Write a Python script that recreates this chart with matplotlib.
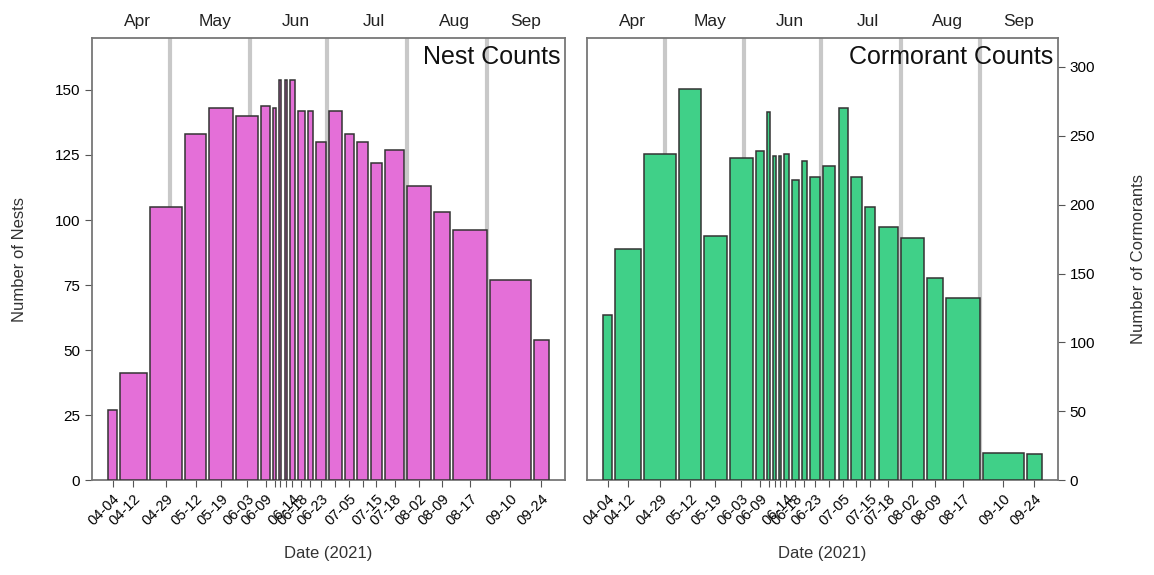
import numpy as np
import pandas as pd
import matplotlib
matplotlib.use("Agg")
import matplotlib.pyplot as plt

plt.rcParams.update({"font.family": ["Liberation Sans", "DejaVu Sans"], "font.size": 11})

# survey dates (2021) and counts
survey_dates = ["04-04", "04-12", "04-29", "05-12", "05-19", "06-03", "06-09", "06-11",
                "06-12", "06-13", "06-14", "06-18", "06-20", "06-23", "06-29", "07-05",
                "07-08", "07-15", "07-18", "08-02", "08-09", "08-17", "09-10", "09-24"]
nest_counts = [27, 41, 105, 133, 143, 140, 144, 143, 154, 154, 154, 142, 142, 130, 142,
               133, 130, 122, 127, 113, 103, 96, 77, 54]
corm_counts = [120, 168, 237, 284, 177, 234, 239, 267, 235, 235, 237, 218, 232, 220, 228,
               270, 220, 198, 184, 176, 147, 132, 20, 19]

# only these dates get a tick label (the rest would overlap)
shown_labels = ["04-04", "04-12", "04-29", "05-12", "05-19", "06-03", "06-09", "06-14",
                "06-18", "06-23", "07-05", "07-15", "07-18", "08-02", "08-09", "08-17",
                "09-10", "09-24"]
month_names = ["Apr", "May", "Jun", "Jul", "Aug", "Sep"]


def doy(md):
    return pd.Timestamp("2021-" + md).dayofyear


def bar_layout(dates):
    # barplot-style layout: each bar is as wide as the time it covers
    d = np.array([doy(x) for x in dates], dtype=float)
    mids = np.concatenate([[d[0]], (d[1:] + d[:-1]) / 2, [d[-1]]])
    w = np.diff(mids)
    space = 0.2 * w.mean()
    left = np.cumsum(np.concatenate([[0], w[:-1]])) + space * np.arange(1, len(w) + 1)
    return d, left, w


def panel(ax, dates, counts, color, title, ylim, yticks):
    d, left, w = bar_layout(dates)
    centers = left + w / 2
    ax.bar(left, counts, width=w, align="edge", color=color, edgecolor="#333333",
           linewidth=1.1, zorder=3)
    span = left[-1] + w[-1] - left[0]
    ax.set_xlim(left[0] - 0.037 * span, left[-1] + w[-1] + 0.037 * span)
    ax.set_ylim(*ylim)
    ax.set_yticks(yticks)

    # linear date -> position fits for month lines and month names
    fit_left = np.polyfit(d, left, 1)
    fit_mid = np.polyfit(d, centers, 1)
    for m in range(5, 10):
        x = np.polyval(fit_left, doy(f"{m:02d}-01"))
        ax.axvline(x, color="#c8c8c8", linewidth=3, zorder=1)
    xmax = ax.get_xlim()[1]
    for i, name in enumerate(month_names):
        x = min(np.polyval(fit_mid, doy(f"{i + 4:02d}-16")), xmax - 0.09 * span)
        ax.text(x, 1.02, name, transform=ax.get_xaxis_transform(), ha="center",
                va="bottom", fontsize=12.5, color="#222222")

    ax.set_xticks(centers)
    ax.set_xticklabels([t if t in shown_labels else "" for t in dates], rotation=45,
                       ha="right", rotation_mode="anchor", fontsize=10.5)
    ax.tick_params(axis="x", length=5, color="#555555")
    ax.tick_params(axis="y", length=5, color="#555555", labelsize=11)
    for s in ax.spines.values():
        s.set_color("#777777")
        s.set_linewidth(1.3)
    ax.text(0.99, 0.985, title, transform=ax.transAxes, ha="right", va="top",
            fontsize=18, color="#111111", zorder=5)
    ax.set_xlabel("Date (2021)", fontsize=12, color="#333333", labelpad=13)


fig = plt.figure(figsize=(11.54, 5.75), dpi=100)
ax1 = fig.add_axes([0.0797, 0.165, 0.410, 0.769])
ax2 = fig.add_axes([0.5087, 0.165, 0.408, 0.769])

panel(ax1, survey_dates, nest_counts, "#e46fd8", "Nest Counts", (0, 170),
      [0, 25, 50, 75, 100, 125, 150])
ax1.set_ylabel("Number of Nests", fontsize=12, color="#333333", labelpad=20)

panel(ax2, survey_dates, corm_counts, "#40d088", "Cormorant Counts", (0, 321),
      [0, 50, 100, 150, 200, 250, 300])
ax2.yaxis.tick_right()
ax2.yaxis.set_label_position("right")
ax2.set_ylabel("Number of Cormorants", fontsize=12, color="#333333", labelpad=26)

fig.savefig("out.png", dpi=100)
